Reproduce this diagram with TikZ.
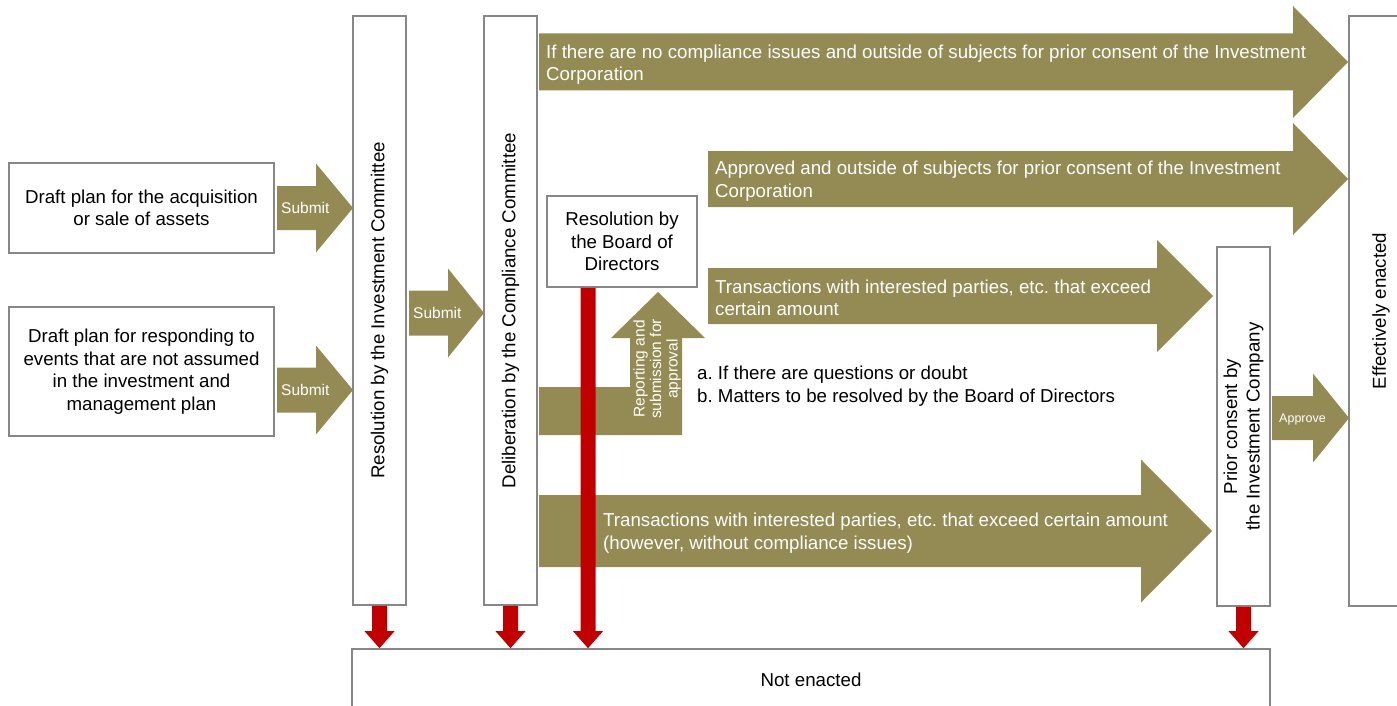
\documentclass[tikz,border=0pt]{standalone}
\usepackage{fontspec}
\setmainfont{Liberation Sans}
\usetikzlibrary{calc}
\definecolor{olv}{HTML}{948A54}
\definecolor{rd}{HTML}{C00000}
\definecolor{bx}{HTML}{878787}
\frenchspacing
% olive block arrow: x start, x tip, y centre, body half height, head half height, head length
\newcommand\oarrow[6]{%
  \fill[olv] (#1,#3-#4) -- (#2-#6,#3-#4) -- (#2-#6,#3-#5) -- (#2,#3) -- (#2-#6,#3+#5) -- (#2-#6,#3+#4) -- (#1,#3+#4) -- cycle;}
% red downward block arrow from coordinate #1 to tip coordinate #2
\newcommand\rarrow[2]{%
  \path let \p1=#1, \p2=#2 in
  [fill=rd] (\x2-7.5pt,\y1) -- (\x2-7.5pt,\y2+17pt) -- (\x2-15pt,\y2+17pt) -- (\x2,\y2)
   -- (\x2+15pt,\y2+17pt) -- (\x2+7.5pt,\y2+17pt) -- (\x2+7.5pt,\y1) -- cycle;}
\begin{document}
\begin{tikzpicture}[x=1pt,y=-1pt,
  box/.style={draw=bx,line width=1.6pt,fill=white,inner sep=0pt,align=center,font=\fontsize{18.7}{22.5}\selectfont},
  vtext/.style={rotate=90,align=center,inner sep=0pt,font=\fontsize{18.7}{22.5}\selectfont},
  wtext/.style={text=white,align=left,anchor=west,inner sep=0pt,font=\fontsize{18.7}{22.5}\selectfont},
  btext/.style={text=black,align=left,anchor=west,inner sep=0pt,font=\fontsize{18.7}{23}\selectfont},
  stext/.style={text=white,anchor=west,inner sep=0pt,font=\fontsize{15.5}{18}\selectfont},
]
\useasboundingbox (0,0) rectangle (1397,706);
\clip (0,0) rectangle (1397,706);

% boxes
\node[box,minimum width=265pt,minimum height=90pt] (d1) at (141.5,208) {Draft plan for the acquisition\\or sale of assets};
\node[box,minimum width=265pt,minimum height=129pt] (d2) at (141.5,371.5) {Draft plan for responding to\\events that are not assumed\\in the investment and\\management plan};
\node[box,minimum width=53pt,minimum height=589pt] (inv) at (379.5,310.5) {};
\node[box,minimum width=53pt,minimum height=589pt] (comp) at (510.5,310.5) {};
\node[box,minimum width=150pt,minimum height=91pt] (board) at (622,241.5) {Resolution by\\the Board of\\Directors};
\node[box,minimum width=53pt,minimum height=359pt] (prior) at (1243.5,426.5) {};
\node[box,minimum width=64pt,minimum height=590pt] (eff) at (1381,311) {};
\node[box,minimum width=918pt,minimum height=62pt] (no) at (811,680) {Not enacted};

\node[vtext] (invt) at (inv.center) {Resolution by the Investment Committee};
\node[vtext] (compt) at (comp.center) {Deliberation by the Compliance Committee};
\node[vtext] (priort) at (prior.center) {Prior consent by\\the Investment Company};
\node[vtext] (efft) at (eff.center) {Effectively enacted};

% olive block arrows
\oarrow{277}{353}{208}{22}{44.5}{37}
\oarrow{277}{353}{390}{22.5}{44.5}{37}
\oarrow{409}{484}{313}{22.5}{44.5}{36}
\oarrow{539}{1348}{62}{28.5}{56}{55}
\oarrow{708}{1348}{179}{28}{56}{55}
\oarrow{708}{1213}{296}{28}{56}{56}
\oarrow{539}{1212}{531}{36}{71.5}{71}
\oarrow{1272}{1349}{418}{22}{44.5}{36}
\fill[olv] (539,387) -- (630,387) -- (630,338) -- (611,338) -- (658,292) -- (705,338)
  -- (682,338) -- (682,435) -- (539,435) -- cycle;

\node[stext] (s1) at (281,208) {Submit};
\node[stext] (s2) at (281,390) {Submit};
\node[stext] (s3) at (413,313) {Submit};
\node[stext,font=\fontsize{12.5}{15}\selectfont] (ap) at (1279,419) {Approve};
\node[rotate=90,align=center,inner sep=0pt,text=white,font=\fontsize{15.5}{16.5}\selectfont] (rep) at (657,369) {Reporting and\\submission for\\approval};

\node[wtext] (t1) at (546,64.5) {If there are no compliance issues and outside of subjects for prior consent of the Investment\\Corporation};
\node[wtext] (t2) at (715,181) {Approved and outside of subjects for prior consent of the Investment\\Corporation};
\node[wtext] (t3) at (715,298) {Transactions with interested parties, etc. that exceed\\certain amount};
\node[wtext] (t4) at (603,533) {Transactions with interested parties, etc. that exceed certain amount\\(however, without compliance issues)};
\node[btext] (ab) at (697,386) {a. If there are questions or doubt\\b. Matters to be resolved by the Board of Directors};

% red arrows
\coordinate (r3x) at (588,0);
\rarrow{(inv.south)}{(no.north -| inv.south)}
\rarrow{(comp.south)}{(no.north -| comp.south)}
\rarrow{(board.south -| r3x)}{(no.north -| r3x)}
\rarrow{(prior.south)}{(no.north -| prior.south)}
\end{tikzpicture}
\end{document}
